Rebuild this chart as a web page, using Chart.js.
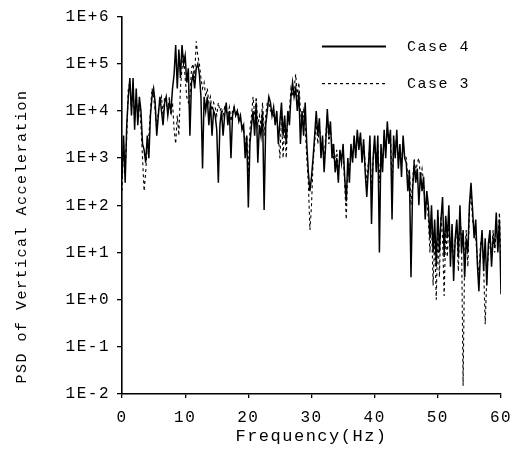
<!DOCTYPE html>
<html>
<head>
<meta charset="utf-8">
<script src="https://cdn.jsdelivr.net/npm/chart.js@4/dist/chart.umd.min.js"></script>
<style>
  html, body { margin: 0; padding: 0; background: #fff; }
  #wrap { position: relative; width: 521px; height: 453px; }
</style>
</head>
<body>
<div id="wrap"><canvas id="c" width="521" height="453"></canvas></div>
<script>
// ---- data (PSD; sampling step 0.25 Hz) ----
const freqStep = 0.25;
const seriesNames = ["Case 4", "Case 3"];
const yTickExponents = [-2, -1, 0, 1, 2, 3, 4, 5, 6];
const xTickValues = [0, 10, 20, 30, 40, 50, 60];

const case4 = [
  4e2, 3e3, 3e2, 5e3, 2e4, 5e4, 8e3, 5e4, 4e3, 3e4, 5e3, 2e4, 1e4, 2e3, 1.5e3, 8e2, 3e3, 1e3, 8e3, 2e4,
  3e4, 1.5e4, 3e3, 8e3, 2e4, 1e4, 5e3, 1.5e4, 2e4, 8e3, 1.5e4, 1e4, 3e4, 6e4, 2.5e5, 3e4, 2e5, 5e4, 2.5e5, 1e5,
  1.5e5, 4e4, 8e4, 3e3, 4e4, 6e4, 3e4, 8e4, 1e5, 6e4, 2e4, 6e2, 2e4, 1e4, 2e4, 5e3, 1.5e4, 3e3, 1e4, 8e3,
  4e3, 3e2, 5e3, 1e4, 3e3, 8e3, 1.5e4, 5e3, 1e4, 1e3, 8e3, 1.2e4, 8e3, 1e4, 6e3, 8e3, 4e3, 5e3, 1e3, 3e3,
  9e1, 2e3, 5e3, 1e4, 3e3, 1.5e4, 8e2, 5e3, 3e3, 1e4, 8e1, 5e3, 1e4, 2e4, 1.5e4, 8e3, 1.2e4, 5e3, 1e4, 2e3,
  6e3, 1.5e4, 3e3, 8e3, 2e3, 1e4, 5e3, 2e4, 4e4, 2e4, 3e4, 1e4, 2.5e4, 2e3, 1e4, 3e3, 1.5e4, 2e3, 5e2, 2e2,
  4e2, 1e3, 3e3, 1e4, 3e3, 7e3, 1e3, 3e3, 5e2, 2e3, 1.1e4, 3e3, 6e3, 1e3, 2e3, 5e2, 1e3, 3e2, 1.5e3, 8e2,
  2e3, 4e2, 1.2e2, 1e3, 3e2, 2e3, 8e2, 3e3, 1e3, 4e3, 1.5e3, 3.5e3, 8e2, 2.5e3, 5e2, 1.5e2, 6e2, 3e3, 4e1, 1e3,
  3e3, 5e2, 3e3, 1e1, 2e3, 5e2, 4e3, 1e3, 6e3, 2e3, 4e3, 5e1, 3e3, 1e3, 4e3, 6e2, 2e3, 4e2, 3e3, 1e3,
  8e2, 2e2, 5e2, 3, 2e2, 8e2, 3e2, 6e2, 1e2, 5e2, 2e2, 4e2, 5e1, 2e2, 1e2, 2e1, 1e2, 1e1, 5e1, 5,
  8e1, 1e1, 5e1, 1.5e2, 8, 6e1, 2e1, 1e2, 5, 4e1, 2.5, 2e1, 5e1, 8, 1e2, 1e1, 3e1, 3, 2e1, 1e1,
  1e2, 3e2, 8e1, 2e1, 5e1, 6, 1.5, 1e1, 3e1, 4, 2e1, 2, 1.5e1, 3e1, 5, 2e1, 1.5e1, 7e1, 1e1, 5e1,
  1.3
];

const case3 = [
  2e2, 2e3, 5e2, 3e3, 3e4, 4e4, 1e4, 3e4, 6e3, 2e4, 8e3, 1.5e4, 5e3, 1e3, 2e2, 5e2, 2e3, 3e3, 1e4, 3e4,
  2e4, 1e4, 4e3, 1e4, 1.5e4, 2e4, 8e3, 2e4, 1.5e4, 1e4, 2e4, 8e3, 1.5e4, 4e3, 2e3, 8e3, 3e3, 3e4, 8e4, 1.5e5,
  5e4, 2e4, 1.5e4, 2e4, 8e4, 1e5, 5e4, 3e5, 1.5e5, 1e5, 5e4, 3e4, 4e4, 2e4, 3e4, 1.5e4, 2e4, 1e4, 1.5e4, 1.2e4,
  8e3, 1.5e4, 1e4, 1.2e4, 8e3, 1.2e4, 1e4, 8e3, 1.2e4, 6e3, 1e4, 1.2e4, 9e3, 1e4, 8e3, 6e3, 5e3, 4e3, 2e3, 3e3,
  5e2, 4e3, 8e3, 2e4, 8e3, 2e4, 5e3, 8e3, 5e3, 1.5e4, 3e3, 8e3, 1.5e4, 1.5e4, 1e4, 1e4, 8e3, 6e3, 8e3, 3e3,
  1e3, 8e3, 1e3, 5e3, 1e3, 8e3, 1e4, 3e4, 2e4, 3e4, 6e4, 2e4, 4e4, 1e4, 5e3, 1e4, 5e3, 1e3, 3e2, 3e1,
  1e2, 8e2, 2e3, 6e3, 2e3, 5e3, 2e3, 2e3, 8e2, 3e3, 8e3, 2e3, 4e3, 2e3, 1e3, 8e2, 1.5e3, 5e2, 1e3, 1e3,
  1.5e3, 3e2, 5e1, 6e2, 5e2, 1.5e3, 1e3, 2e3, 1.5e3, 3e3, 2e3, 3e3, 1e3, 2e3, 8e2, 3e2, 8e2, 2e3, 2e2, 8e2,
  2e3, 8e2, 2e3, 3e2, 1.5e3, 8e2, 3e3, 1.5e3, 4e3, 2.5e3, 3e3, 3e2, 2e3, 1.5e3, 3e3, 1e3, 1.5e3, 8e2, 2e3, 1.2e3,
  1e3, 4e2, 6e2, 1e2, 3e2, 1e3, 5e2, 8e2, 1e3, 4e2, 6e2, 3e2, 8e1, 1.5e2, 5e1, 1e1, 5e1, 2, 2e1, 1,
  3e1, 3, 6e1, 2e1, 1.2, 3e1, 8, 5e1, 8, 3e1, 5, 2e1, 3e1, 4, 6e1, 2e1, 1.5e-2, 1e1, 3e1, 5,
  8e1, 2e2, 5e1, 3e1, 2e1, 8, 3, 1.5e1, 2e1, 5, 0.3, 3, 1e1, 2e1, 8, 3e1, 1e1, 3e1, 1.5e1, 7e1,
  5
];

const xTitle = "Frequency(Hz)";
const yTitle = " PSD of Vertical Acceleration";

// ---- build ----
const toPoints = arr => arr.map((v, i) => ({ x: i * freqStep, y: v }));
const MONO = "'Liberation Mono', 'Courier New', monospace";
const INK = '#000';

const spacingPlugin = {
  id: 'spacing',
  beforeInit(chart) { try { chart.ctx.letterSpacing = '1.5px'; } catch (e) {} },
  beforeDraw(chart) { try { chart.ctx.letterSpacing = '1.5px'; } catch (e) {} }
};

const legendPlugin = {
  id: 'insideLegend',
  afterDraw(chart) {
    const ctx = chart.ctx;
    const a = chart.chartArea;
    const x0 = a.left + 200, x1 = a.left + 264, tx = a.left + 285;
    const rows = [
      { y: a.top + 30, ds: chart.data.datasets[0], w: 2 },
      { y: a.top + 67, ds: chart.data.datasets[1], w: 1.2 }
    ];
    ctx.save();
    rows.forEach(r => {
      ctx.beginPath();
      ctx.strokeStyle = '#000';
      ctx.lineWidth = r.w;
      ctx.setLineDash(r.ds.borderDash || []);
      ctx.moveTo(x0, r.y);
      ctx.lineTo(x1, r.y);
      ctx.stroke();
      ctx.setLineDash([]);
      ctx.fillStyle = INK;
      ctx.font = "15px " + MONO;
      ctx.textAlign = 'left';
      ctx.textBaseline = 'middle';
      ctx.fillText(r.ds.label, tx, r.y);
    });
    ctx.restore();
  }
};

new Chart(document.getElementById('c'), {
  type: 'line',
  data: {
    datasets: [
      { label: seriesNames[0], data: toPoints(case4), borderColor: '#000', borderWidth: 1.5,
        pointRadius: 0, tension: 0, fill: false },
      { label: seriesNames[1], data: toPoints(case3), borderColor: '#000', borderWidth: 1.1,
        borderDash: [3, 3], pointRadius: 0, tension: 0, fill: false }
    ]
  },
  options: {
    responsive: false,
    animation: false,
    devicePixelRatio: 1,
    layout: { padding: { top: 15, right: 20, left: 0, bottom: 0 } },
    plugins: { legend: { display: false }, tooltip: { enabled: false } },
    scales: {
      x: {
        type: 'linear', min: 0, max: 60,
        afterBuildTicks: s => { s.ticks = xTickValues.map(v => ({ value: v })); },
        afterFit: s => { s.height = 59; },
        ticks: { color: INK, font: { family: MONO, size: 16 }, padding: 10, maxRotation: 0 },
        grid: { drawOnChartArea: false, drawTicks: true, tickLength: 4, color: '#000', lineWidth: 1.3 },
        border: { display: true, color: '#000', width: 1.6 },
        title: { display: true, text: xTitle, color: INK, font: { family: MONO, size: 17 },
                 padding: { top: 0, bottom: 6 } }
      },
      y: {
        type: 'logarithmic', min: 1e-2, max: 1e6,
        afterBuildTicks: s => { s.ticks = yTickExponents.map(e => ({ value: Math.pow(10, e) })); },
        afterFit: s => { s.width = 122; },
        ticks: {
          color: INK, font: { family: MONO, size: 16 }, padding: 7,
          callback: v => { const e = Math.round(Math.log10(v)); return '1E' + (e < 0 ? '-' : '+') + Math.abs(e); }
        },
        grid: { drawOnChartArea: false, drawTicks: true, tickLength: 5, color: '#000', lineWidth: 1.3 },
        border: { display: true, color: '#000', width: 1.6 },
        title: { display: true, text: yTitle, align: 'start', color: INK, font: { family: MONO, size: 15 },
                 padding: { top: 13, bottom: 0 } }
      }
    }
  },
  plugins: [spacingPlugin, legendPlugin]
});
</script>
</body>
</html>
